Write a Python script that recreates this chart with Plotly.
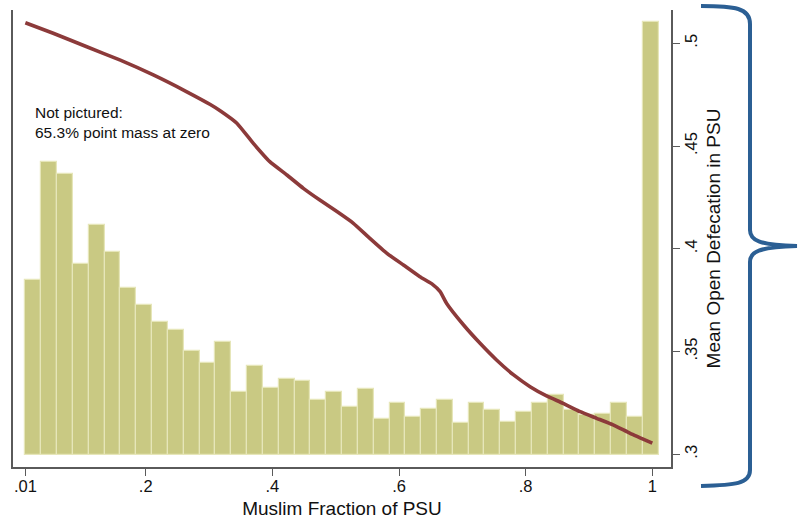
import plotly.graph_objects as go

# ---------------- data ----------------
# histogram of Muslim fraction (nonzero PSUs), density per bin
bin_start = 0.01
bin_width = 0.025
hist_density = [1.72, 2.88, 2.76, 1.88, 2.26, 2.00, 1.64, 1.48, 1.31, 1.23,
                1.03, 0.91, 1.11, 0.62, 0.88, 0.66, 0.75, 0.73, 0.54, 0.62,
                0.48, 0.65, 0.36, 0.52, 0.38, 0.46, 0.54, 0.32, 0.52, 0.45,
                0.33, 0.43, 0.52, 0.59, 0.45, 0.40, 0.41, 0.52, 0.38, 4.26]

# local polynomial fit: mean open defecation vs Muslim fraction
line_x = [0.010, 0.054, 0.107, 0.159, 0.212, 0.265, 0.302, 0.317, 0.344, 0.370,
          0.396, 0.423, 0.449, 0.475, 0.502, 0.528, 0.554, 0.581, 0.607, 0.633,
          0.652, 0.665, 0.675, 0.702, 0.728, 0.754, 0.781, 0.807, 0.833, 0.859,
          0.886, 0.912, 0.938, 0.965, 1.000]
line_y = [0.5100, 0.5049, 0.4983, 0.4919, 0.4846, 0.4764, 0.4702, 0.4673, 0.4611, 0.4513,
          0.4424, 0.4359, 0.4294, 0.4237, 0.4181, 0.4124, 0.4051, 0.3978, 0.3921, 0.3864,
          0.3829, 0.3791, 0.3735, 0.3629, 0.3540, 0.3459, 0.3386, 0.3329, 0.3284, 0.3248,
          0.3207, 0.3175, 0.3143, 0.3102, 0.3054]

x_tickvals = [0.01, 0.2, 0.4, 0.6, 0.8, 1.0]
x_ticktext = [".01", ".2", ".4", ".6", ".8", "1"]
y_tickvals = [0.30, 0.35, 0.40, 0.45, 0.50]
y_ticktext = [".3", ".35", ".4", ".45", ".5"]

note_text = "Not pictured:<br>65.3% point mass at zero"
x_title = "Muslim Fraction of PSU"
y_title = "Mean Open Defecation in PSU"

# ---------------- layout constants ----------------
W, H = 798, 520
L, R, T, B = 13, 127, 10, 53
FONT = "Liberation Sans, Arial, Helvetica, sans-serif"
AXIS_COL = "#5a5a5a"
TXT = "#111111"

bin_centers = [bin_start + bin_width * (i + 0.5) for i in range(len(hist_density))]

fig = go.Figure()
fig.add_trace(go.Bar(
    x=bin_centers, y=hist_density, width=bin_width,
    marker=dict(color="rgb(201,201,131)", line=dict(color="rgb(230,230,185)", width=1.2)),
    yaxis="y", showlegend=False, hoverinfo="skip"))
fig.add_trace(go.Scatter(
    x=line_x, y=line_y, mode="lines", yaxis="y2",
    line=dict(color="#8c3a3a", width=3.6, shape="spline", smoothing=0.4),
    showlegend=False))

# curly brace to the right of the plot (decoration), pixel -> paper
pw, ph = W - L - R, H - T - B
def P(x, y):
    return f"{(x - L) / pw:.5f},{(H - B - y) / ph:.5f}"

brace = (f"M {P(701,6)} C {P(735,6)} {P(750,8)} {P(750,24)} "
         f"L {P(750,230)} C {P(750,240)} {P(758,245)} {P(797,246)} "
         f"C {P(758,247)} {P(750,252)} {P(750,262)} "
         f"L {P(750,470)} C {P(750,484)} {P(735,485)} {P(701,486)}")

fig.update_layout(
    width=W, height=H,
    margin=dict(l=L, r=R, t=T, b=B, pad=0, autoexpand=False),
    paper_bgcolor="white", plot_bgcolor="white",
    font=dict(family=FONT, color=TXT),
    bargap=0,
    xaxis=dict(range=[-0.0095, 1.0295], tickvals=x_tickvals, ticktext=x_ticktext,
               ticks="outside", ticklen=7, tickwidth=1.3, tickcolor=AXIS_COL,
               ticklabelstandoff=-4,
               showline=True, linecolor=AXIS_COL, linewidth=1.5,
               showgrid=False, zeroline=False,
               tickfont=dict(size=16.5, family=FONT, color=TXT),
               title=dict(text=x_title, font=dict(size=19, family=FONT, color=TXT), standoff=8)),
    yaxis=dict(range=[-0.113, 4.374], showticklabels=False, ticks="",
               showline=True, linecolor=AXIS_COL, linewidth=1.5,
               showgrid=False, zeroline=False, side="left"),
    yaxis2=dict(range=[0.2938, 0.5162], overlaying="y", side="right",
                tickvals=y_tickvals, ticktext=y_ticktext, tickangle=-90,
                ticks="outside", ticklen=7, tickwidth=1.3, tickcolor=AXIS_COL,
                ticklabelstandoff=-3,
                showline=True, linecolor=AXIS_COL, linewidth=1.5,
                showgrid=False, zeroline=False,
                tickfont=dict(size=16.5, family=FONT, color=TXT),
                title=dict(text=y_title, font=dict(size=19, family=FONT, color=TXT), standoff=8)),
    shapes=[dict(type="path", xref="paper", yref="paper", path=brace,
                 line=dict(color="#2b5f94", width=4), fillcolor="rgba(0,0,0,0)")],
    annotations=[dict(text=note_text, xref="paper", yref="paper",
                      x=(33 - L) / pw, y=(H - B - 102) / ph, xanchor="left", yanchor="top",
                      align="left", showarrow=False,
                      font=dict(size=15.5, family=FONT, color=TXT))],
)

fig.write_html("out.html", config={"displayModeBar": False},
               post_script="document.body.style.margin='0px';document.body.style.overflow='hidden';")
